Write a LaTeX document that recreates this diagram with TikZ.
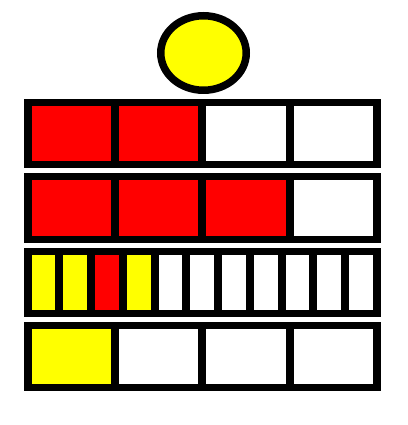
\documentclass[tikz,border=0pt]{standalone}
\definecolor{Cverm}{RGB}{255,0,0}
\definecolor{Camar}{RGB}{255,255,0}

\begin{document}
\begin{tikzpicture}[x=0.02cm, y=-0.02cm,
      moldura/.style={fill=black},
      sol/.style={draw=black, fill=Camar, line width=0.15cm}]
    \useasboundingbox (0,0) rectangle (407,425);
    % Circulo
    \filldraw[sol] (203.5,53) ellipse [x radius=42.75, y radius=37.25];
    % Barras (topo, partes, cores)
    \foreach \topo/\n/\cores in {
        99.5/4/{Cverm,Cverm,white,white},
        173.5/4/{Cverm,Cverm,Cverm,white},
        247.5/11/{Camar,Camar,Cverm,Camar,white,white,white,white,white,white,white},
        321.5/4/{Camar,white,white,white}} {
      \fill[moldura] (23.5,\topo) rectangle (381,\topo+69);
      \pgfmathsetmacro{\cw}{(341.5-8*(\n-1))/\n}
      \foreach \c [count=\i from 0] in \cores
        \fill[\c] ({31.5+\i*(\cw+8)},\topo+7) rectangle ++(\cw,55);
    }
  \end{tikzpicture}
\end{document}
